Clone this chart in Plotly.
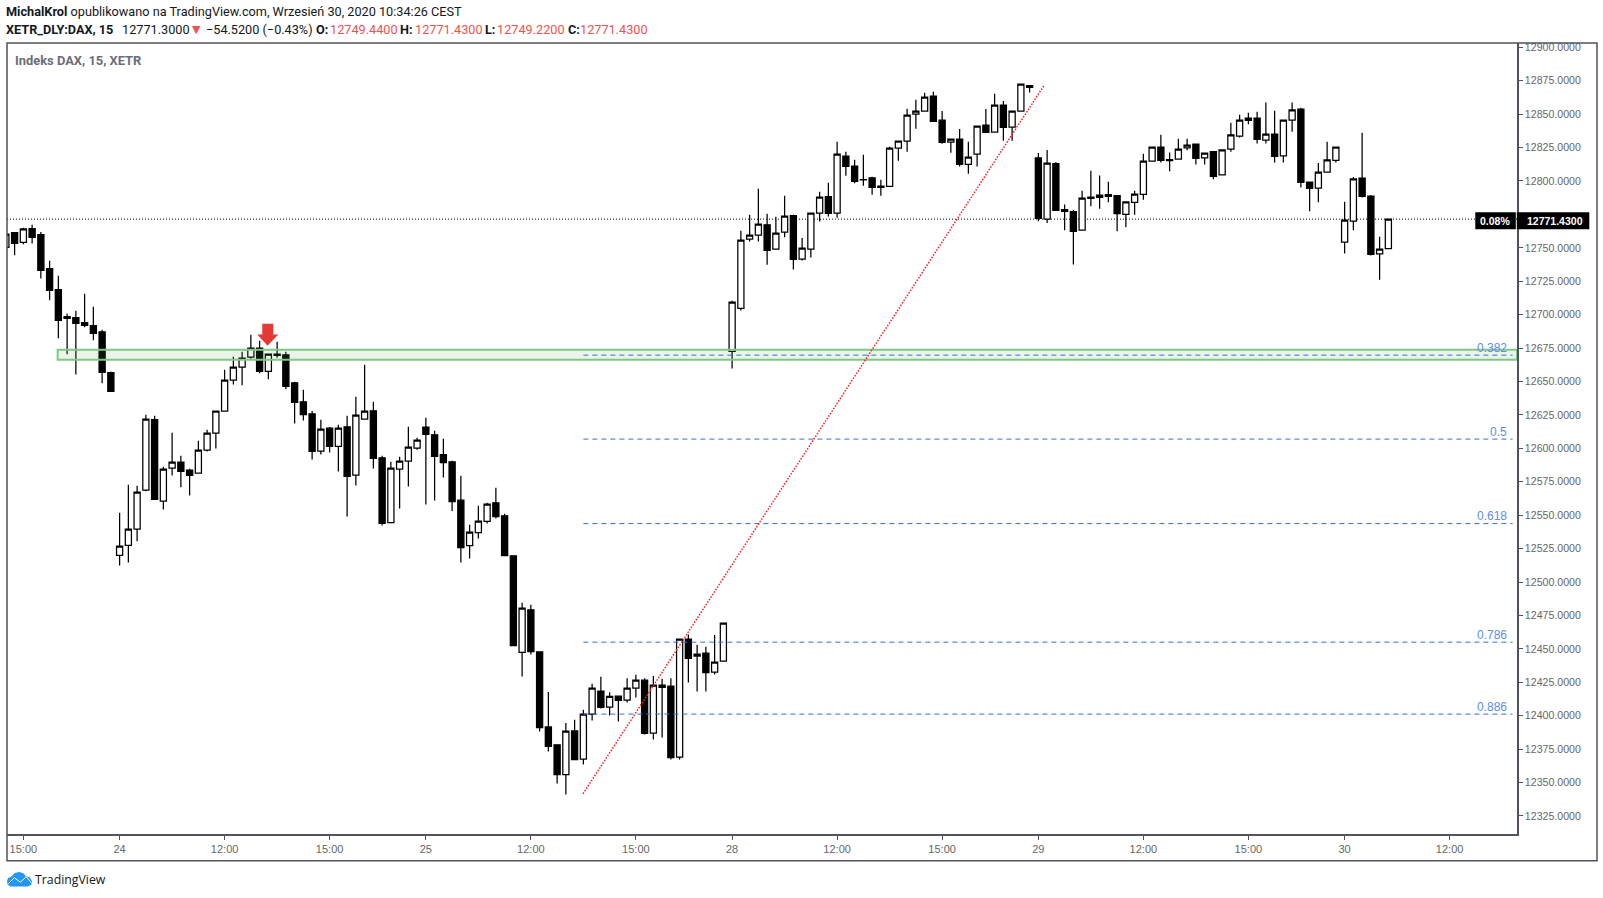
import plotly.graph_objects as go

W, H = 1603, 898
# plot area in page pixels
PL, PR, PT, PB = 6.7, 1516.7, 43.3, 834.3

opens = [12750.3, 12761.3, 12754.1, 12764.3, 12759.8, 12734.4, 12718.7, 12698.5, 12697.7, 12694,
         12691.7, 12687.2, 12656.6, 12519.9, 12527.4, 12539.6, 12568.8, 12621.4, 12560.5, 12585.2,
         12589.7, 12583.7, 12581.5, 12598.7, 12611.4, 12627.9, 12651.1, 12660.8, 12668.3, 12675,
         12657.6, 12670.5, 12670, 12649, 12634.8, 12625.8, 12597.9, 12615.1, 12601.4, 12616.1,
         12579.9, 12621.8, 12628.1, 12592.9, 12544.5, 12584.4, 12590.4, 12600.1, 12615.9, 12610.1,
         12595.2, 12589.9, 12561.2, 12527.3, 12537, 12545.3, 12559.2, 12549.5, 12519.6, 12447.3,
         12479.2, 12447.8, 12391.6, 12378.2, 12356, 12388.7, 12367.5, 12401.2, 12418.4, 12406.4,
         12414.6, 12411.6, 12420.6, 12426.6, 12387, 12422.9, 12422.1, 12369, 12457.3, 12444.6,
         12446.8, 12432.6, 12440.8, 12672.5, 12704.6, 12756.5, 12759.5, 12767.2, 12749, 12761.7,
         12774, 12741.5, 12749, 12776, 12788.2, 12776, 12818.6, 12811.1, 12801, 12802.4,
         12796.2, 12795.9, 12824.6, 12829.8, 12850, 12852.3, 12863.5, 12845.5, 12829.1, 12831.3,
         12812.4, 12820.1, 12841.8, 12836.6, 12856.8, 12840.3, 12852.3, 12871.3, 12817.2, 12771.5,
         12812.9, 12778.5, 12777, 12763.3, 12788, 12787.7, 12789.7, 12789, 12775, 12784,
         12790, 12814.9, 12825.4, 12815.9, 12816.4, 12824.7, 12827.6, 12817.2, 12821.9, 12804.5,
         12823.9, 12833.6, 12845.4, 12847.1, 12830.6, 12835.1, 12818.7, 12845.6, 12853.8, 12799.2,
         12794.7, 12806.7, 12815.4, 12754.3, 12770, 12802.2, 12788.7, 12745.4, 12749.44]
closes = [12760.3, 12753.3, 12764.1, 12757.8, 12733.1, 12718.2, 12695.7, 12697.2, 12693.5, 12692,
          12686, 12656.8, 12642.6, 12526.9, 12539.6, 12567.3, 12621.9, 12561.8, 12584.5, 12589.7,
          12582.7, 12579.7, 12598.7, 12611.4, 12627.9, 12651.1, 12660.8, 12667.5, 12675, 12657.6,
          12670.5, 12669.5, 12646.3, 12634.3, 12625.3, 12597.7, 12614.4, 12601.4, 12615.1, 12579,
          12624.8, 12627.8, 12592.4, 12543.8, 12585.2, 12590.4, 12600.9, 12606.1, 12610.4, 12593.9,
          12589.4, 12560.2, 12525.8, 12537.3, 12545.5, 12558.2, 12549, 12519.8, 12452.5, 12480.4,
          12448, 12391.1, 12377, 12356, 12388.4, 12367.2, 12401.2, 12420.6, 12406.2, 12414.4,
          12411.4, 12420.6, 12426.6, 12386.7, 12422.9, 12421.1, 12368.7, 12457.3, 12442.8, 12446.1,
          12432.3, 12440.1, 12469.3, 12709.4, 12755.8, 12759.5, 12767.7, 12748, 12761, 12773.7,
          12741.3, 12749.8, 12776, 12787.9, 12775.7, 12820.1, 12810.9, 12799.7, 12800.9, 12795.2,
          12795.2, 12824.6, 12829.8, 12849.3, 12852.3, 12862.7, 12844.5, 12828.8, 12831.3, 12812.4,
          12817.9, 12841, 12836.3, 12856.8, 12840, 12852.3, 12872.5, 12870, 12772, 12813.4,
          12778, 12777.3, 12762.3, 12787.2, 12787, 12789.5, 12788.5, 12775.5, 12784.3, 12790.2,
          12814.9, 12825.4, 12815.4, 12815.2, 12823.9, 12826.9, 12816.9, 12820.9, 12803.5, 12823.2,
          12834.4, 12845.6, 12847.1, 12831.1, 12835.1, 12818.4, 12845.6, 12853.1, 12799, 12794.5,
          12806.7, 12815.7, 12825.4, 12770.8, 12801.5, 12788.5, 12745.1, 12749, 12771.43]
highs = [12760.3, 12761.3, 12765, 12767.3, 12761.8, 12740.4, 12729.1, 12700.7, 12703, 12715.7,
         12705.9, 12688.7, 12657.3, 12551.8, 12572.8, 12572, 12625.1, 12624.4, 12586.2, 12611.7,
         12594.5, 12584.7, 12605.7, 12613.9, 12627.9, 12658.8, 12668.5, 12672.3, 12685, 12680.5,
         12670.5, 12679.8, 12672.3, 12649.8, 12643.8, 12628, 12621.3, 12615.9, 12617.6, 12624.3,
         12638.6, 12662.5, 12634.8, 12594.4, 12589.9, 12593.7, 12616.1, 12607.9, 12622.8, 12613.1,
         12607.1, 12590.7, 12579.4, 12542.8, 12557, 12559.2, 12570.5, 12551, 12519.6, 12484.4,
         12482.9, 12447.8, 12417.8, 12378.2, 12394.6, 12396.9, 12404.4, 12423.9, 12429.1, 12417.6,
         12414.6, 12428.1, 12430.6, 12428.1, 12429.6, 12427.6, 12428.1, 12457.3, 12460.8, 12453,
         12451.6, 12460.3, 12469.3, 12710.4, 12762.7, 12774.7, 12794.2, 12775.5, 12773.2, 12788.9,
         12774.7, 12757.3, 12776, 12791.9, 12798.7, 12829.3, 12821.8, 12815.9, 12819.6, 12803.2,
         12800.9, 12825.6, 12829.8, 12854, 12860.8, 12866, 12866.7, 12852.3, 12831.3, 12838.8,
         12829.3, 12841, 12853.8, 12865.2, 12859.8, 12852.3, 12872.5, 12871.3, 12820.9, 12823.2,
         12814.2, 12782.3, 12778.3, 12792.7, 12807.7, 12804, 12799.5, 12789.5, 12784.3, 12792.7,
         12820.4, 12825.4, 12834.6, 12821.2, 12831.6, 12831.6, 12827.6, 12820.9, 12821.9, 12823.2,
         12843.6, 12849.6, 12851.1, 12851.8, 12858.6, 12852.6, 12845.6, 12858.6, 12854.8, 12799.2,
         12813.4, 12829.4, 12825.4, 12784.5, 12803, 12836.1, 12789.5, 12758.3, 12771.43]
lows = [12750.3, 12744.4, 12752.6, 12753.3, 12727.1, 12710.7, 12682.3, 12670.3, 12655.3, 12690.5,
        12680.8, 12648.6, 12642.6, 12512.4, 12514.6, 12530.4, 12567.8, 12561.8, 12554.3, 12579.7,
        12570.8, 12564.8, 12581.5, 12597.7, 12599.9, 12627.9, 12647.8, 12647.1, 12667, 12656.1,
        12651.6, 12667.8, 12644.1, 12618.6, 12620.8, 12591.7, 12595.4, 12596.9, 12582.7, 12549,
        12572.2, 12621.8, 12584.9, 12542.3, 12544.5, 12555, 12571.5, 12598.9, 12558, 12561,
        12578.2, 12553.2, 12514.6, 12517.6, 12532.5, 12543.8, 12547.5, 12519.8, 12452.5, 12429.3,
        12445.8, 12388.2, 12373.2, 12349.2, 12341, 12367.2, 12363.5, 12396.4, 12405.4, 12400.2,
        12395.7, 12409.9, 12413.6, 12386, 12382.2, 12383.7, 12367.3, 12367.3, 12424.9, 12418.1,
        12418.1, 12430.9, 12440.8, 12659.7, 12703.1, 12754.8, 12754.8, 12737.3, 12749, 12757.8,
        12733.8, 12740.5, 12742.8, 12769.7, 12773.5, 12772.5, 12803.9, 12798.2, 12796.4, 12789.7,
        12788.9, 12795.9, 12815.1, 12821.8, 12839.1, 12852.3, 12844.5, 12827.8, 12821.1, 12810.9,
        12805.4, 12810.9, 12836.3, 12836.6, 12830.1, 12830.1, 12852.3, 12866.2, 12769.8, 12768.5,
        12778, 12763.1, 12737.6, 12763.3, 12781, 12779.3, 12784, 12762.3, 12765.3, 12774.8,
        12786, 12814.9, 12813.9, 12807.2, 12816.4, 12822.9, 12812.4, 12812.4, 12801.2, 12804.5,
        12821.9, 12832.6, 12842.4, 12828.1, 12828.1, 12813.9, 12813.9, 12836.9, 12795.2, 12777.3,
        12784, 12806.7, 12813.9, 12745.8, 12763.1, 12787.7, 12744.3, 12726.1, 12749.22]

bars = list(range(len(opens)))

time_ticks = [2, 13, 25, 37, 48, 60, 72, 83, 95, 107, 118, 130, 142, 153, 165]
time_labels = ["15:00", "24", "12:00", "15:00", "25", "12:00", "15:00", "28", "12:00", "15:00",
               "29", "12:00", "15:00", "30", "12:00"]
price_ticks = list(range(12325, 12901, 25))
# 12775 sits behind the last price tag
price_labels = ["" if p == 12775 else f"{p}.0000" for p in price_ticks]

last_price = 12771.43
zone_low, zone_high = 12666.2, 12673.7
zone_start = 5.92
fib_levels = [0.382, 0.5, 0.618, 0.786, 0.886]
fib_prices = [12669.7, 12606.9, 12543.7, 12455.0, 12401.2]
fib_start, fib_end = 66, 172.2
trend_x = [65.96, 118.7]
trend_y = [12341.6, 12872.0]

X_RANGE = [0.13, 172.7]
Y_RANGE = [12311.5, 12903.2]


def px(x):
    return (x - PL) / (PR - PL)


def py(y):
    return (PB - y) / (PB - PT)


def paper_path(points, close=True):
    path = "M" + " L".join(f"{px(a):.5f},{py(b):.5f}" for a, b in points)
    return path + " Z" if close else path


fig = go.Figure(go.Candlestick(
    x=bars, open=opens, high=highs, low=lows, close=closes,
    increasing=dict(line=dict(color="#000000", width=1.25), fillcolor="#ffffff"),
    decreasing=dict(line=dict(color="#000000", width=1.25), fillcolor="#000000"),
    whiskerwidth=0, showlegend=False,
))

# last price dotted line goes under the candles
fig.add_shape(type="line", x0=X_RANGE[0], x1=X_RANGE[1], y0=last_price, y1=last_price,
              line=dict(color="#000000", width=1, dash="1px,2px"), layer="below")

# support zone
fig.add_shape(type="rect", x0=zone_start, x1=X_RANGE[1], y0=zone_low, y1=zone_high,
              line=dict(color="#81c784", width=2), fillcolor="rgba(76,175,80,0.13)")

# fibonacci levels
for lvl, price in zip(fib_levels, fib_prices):
    fig.add_shape(type="line", x0=fib_start, x1=fib_end, y0=price, y1=price,
                  line=dict(color="#2f6fe8", width=1, dash="5px,4px"))
    fig.add_annotation(x=px(1509), y=price, xref="paper", yref="y",
                       text=str(lvl), showarrow=False, xanchor="right", yanchor="bottom", yshift=-1.5,
                       font=dict(family="Liberation Sans", size=12, color="#5b8def"))

# trend line
fig.add_shape(type="line", x0=trend_x[0], x1=trend_x[1], y0=trend_y[0], y1=trend_y[1],
              line=dict(color="#ff1f1f", width=1.5, dash="1.5px,1.5px"))

# red arrow
arrow = [(262, 324), (273, 324), (273, 334.7), (278, 334.7), (267.3, 346), (257, 334.7), (262, 334.7)]
fig.add_shape(type="path", path=paper_path(arrow), xref="paper", yref="paper",
              fillcolor="#e53935", line=dict(width=0))


def box(x0, y0, x1, y1, **kw):
    fig.add_shape(type="rect", xref="paper", yref="paper",
                  x0=px(x0), x1=px(x1), y0=py(y0), y1=py(y1), **kw)


def label(x, y, text, size=12.7, color="#131722", anchor="left", family="Roboto"):
    fig.add_annotation(x=px(x), y=py(y), xref="paper", yref="paper", text=text, showarrow=False,
                       xanchor=anchor, yanchor="middle", borderpad=0,
                       font=dict(family=family, size=size, color=color))


# outer frame
box(PL, PT, 1596.7, 861, line=dict(color="#50535e", width=1.5))

# price tags
box(1475, 212.5, 1515.5, 229.5, fillcolor="#000000", line=dict(width=0))
box(1516.5, 212.5, 1589, 229.5, fillcolor="#000000", line=dict(width=0))
label(1511, 221, "<b>0.08%</b>", 10.5, "#ffffff", "right", "Liberation Sans")
label(1526, 221, "<b>12771.4300</b>", 10.5, "#ffffff", "left", "Liberation Sans")

RED = "#ef5350"
label(5, 12.3, "<b>MichalKrol</b> opublikowano na TradingView.com, Wrzesień 30, 2020 10:34:26 CEST")
label(5, 29.7, "<b>XETR_DLY:DAX, 15</b>")
label(120.8, 29.7, "12771.3000")
label(190.7, 29.7, "▼", 11, RED, family="DejaVu Sans")
label(205, 29.7, "−54.5200 (−0.43%)")
label(314.8, 29.7, "<b>O:</b>")
label(328.7, 29.7, "12749.4400", color=RED)
label(399, 29.7, "<b>H:</b>")
label(413.7, 29.7, "12771.4300", color=RED)
label(484, 29.7, "<b>L:</b>")
label(495.4, 29.7, "12749.2200", color=RED)
label(566.5, 29.7, "<b>C:</b>")
label(578.7, 29.7, "12771.4300", color=RED)
label(13.2, 60.7, "<b>Indeks DAX, 15, XETR</b>", 12.9, "#6a6d78")

# TradingView logo, outline built from straight pieces
cloud = [(6.7, 882), (7.5, 878.5), (11.5, 876.5), (14.5, 873.3), (19, 872.2), (23, 873.5), (25.5, 876.5),
         (29.5, 877.5), (31.7, 881.5), (31, 885), (27.5, 886.7), (10, 886.7), (7.5, 885)]
fig.add_shape(type="path", path=paper_path(cloud), xref="paper", yref="paper",
              fillcolor="#2196f3", line=dict(width=0))
swoosh = [(8, 884), (14, 878), (20, 882.5), (26, 877), (31, 883)]
fig.add_shape(type="path", path=paper_path(swoosh, close=False), xref="paper", yref="paper",
              line=dict(color="#ffffff", width=1))
label(33.5, 879.5, "TradingView", 12.3, "#131722", family="Open Sans")

fig.update_layout(
    width=W, height=H, paper_bgcolor="#ffffff", plot_bgcolor="#ffffff",
    margin=dict(l=PL, r=W - PR, t=PT, b=H - PB, autoexpand=False),
    boxgap=0.3, boxgroupgap=0,
    xaxis=dict(
        range=X_RANGE, rangeslider=dict(visible=False), showgrid=False, zeroline=False,
        tickmode="array", tickvals=time_ticks, ticktext=time_labels,
        ticks="outside", ticklen=4, tickcolor="#50535e", showline=True, linecolor="#50535e", linewidth=1.5,
        tickfont=dict(family="Liberation Sans", size=11, color="#666666"),
    ),
    yaxis=dict(
        range=Y_RANGE, side="right", showgrid=False, zeroline=False,
        tickmode="array", tickvals=price_ticks, ticktext=price_labels,
        ticks="outside", ticklen=4, tickcolor="#50535e", showline=True, linecolor="#50535e", linewidth=1.5,
        tickfont=dict(family="Liberation Sans", size=10.6, color="#666666"),
    ),
    hovermode=False,
)

fig.write_html("out.html", post_script="document.body.style.margin='0';", config=dict(displayModeBar=False))
